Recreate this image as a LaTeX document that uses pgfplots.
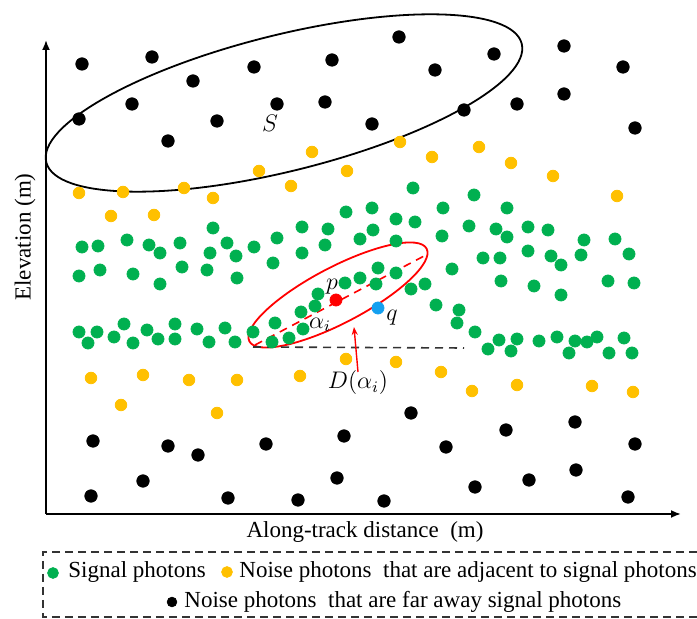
\documentclass[border=0pt]{standalone}
\usepackage{pgfplots}
\pgfplotsset{compat=1.18}
\usepackage{fontspec}
\setmainfont{Liberation Serif}
\usetikzlibrary{arrows.meta}
\definecolor{sgreen}{RGB}{0,176,80}
\definecolor{syellow}{RGB}{255,192,0}
\definecolor{sblue}{RGB}{20,160,240}
\begin{document}
\begin{tikzpicture}[every node/.append style={font=\fontsize{11.5}{13}\selectfont, inner sep=0pt}]
\begin{axis}[width=348.5pt,height=309.5pt,scale only axis,
  xmin=0,xmax=697,ymin=0,ymax=619,y dir=reverse,hide axis,clip=false]
% axes
\draw[line width=0.9pt,-{Latex[length=5pt,width=4pt]}] (axis cs:46,514) -- (axis cs:46,40);
\draw[line width=0.9pt,-{Latex[length=5pt,width=4pt]}] (axis cs:46,514) -- (axis cs:681,514);
% black noise photons
\addplot[only marks, mark=*, mark size=3.1pt, color=black] coordinates {
(82,64) (152,57) (254,67) (193,81) (332,60) (132,104) (277,104) (325,102) (79,119) (217,121) (168,141)
(399,37) (494,54) (435,70) (564,46) (623,67) (372,124) (464,110) (517,104) (564,94) (635,128)
(93,441) (168,446) (198,455) (266,444) (344,436) (143,481) (337,478) (91,496) (228,498) (298,500)
(411,413) (506,430) (575,422) (446,447) (635,444) (475,487) (529,480) (576,470) (384,501) (628,497)
};
% yellow adjacent noise
\addplot[only marks, mark=*, mark size=2.9pt, color=syellow] coordinates {
(312,152) (259,171) (347,171) (291,186) (79,193) (123,192) (184,188) (213,198) (400,142) (479,147)
(432,157) (511,163) (553,176) (617,196) (111,216) (154,215) (346,359) (396,362) (91,378) (143,375)
(189,380) (237,380) (300,376) (121,405) (217,413) (441,372) (472,391) (517,385) (592,386) (633,392)
};
% green signal photons
\addplot[only marks, mark=*, mark size=3pt, color=sgreen] coordinates {
(413,188) (474,195)
(213,228) (302,227) (328,229) (346,212) (82,247) (98,246) (127,240) (149,245) (160,253) (180,243)
(210,253) (227,243) (236,256) (254,247) (277,238) (302,253) (325,245) (79,276) (100,270) (133,274)
(160,284) (182,267) (207,270) (237,278) (273,263) (318,294) (315,306) (301,312) (345,283) (275,323)
(303,329) (289,338) (272,342) (253,332) (79,332) (97,332) (88,343) (114,337) (124,324) (133,343)
(147,330) (158,339) (175,324) (175,339) (197,329) (209,342) (225,328) (235,342)
(372,208) (396,219) (415,222) (443,208) (507,208) (373,230) (360,239) (396,241) (442,236) (469,226)
(496,229) (507,237) (528,227) (548,230) (584,240) (615,239) (483,258) (500,258) (528,251) (551,256)
(561,265) (581,255) (629,254) (452,269) (378,268) (360,278) (396,273) (376,284) (411,289) (425,284)
(501,281) (534,286) (561,295) (608,281) (634,283) (436,305) (459,310) (457,323) (475,332) (488,349)
(499,340) (517,339) (511,351) (539,341) (557,337) (575,341) (587,342) (597,337) (569,353) (624,338)
(609,353) (632,353)
};
% p and q
\addplot[only marks, mark=*, mark size=3pt, color=red] coordinates {(336,300)};
\addplot[only marks, mark=*, mark size=3pt, color=sblue] coordinates {(378,308)};
% ellipses
\draw[black, line width=0.9pt, rotate around={14:(axis cs:284,103)}] (axis cs:284,103) ellipse [x radius=122.5pt, y radius=34pt];
\draw[red, line width=0.9pt, rotate around={27.6:(axis cs:338,295)}] (axis cs:338,295) ellipse [x radius=50pt, y radius=14pt];
\draw[red, line width=0.8pt, dash pattern=on 4pt off 3pt] (axis cs:255,345) -- (axis cs:426,255);
\draw[black!80, line width=0.8pt, dash pattern=on 4pt off 3pt] (axis cs:253,347) -- (axis cs:464,348);
\draw[red, line width=0.7pt, -{Stealth[length=4pt,width=3pt]}] (axis cs:358,372) -- (axis cs:354,327);
% labels
\node at (axis cs:270,123) {$S$};
\node at (axis cs:332,287) {$p$};
\node at (axis cs:392,318) {$q$};
\node at (axis cs:320,325) {$\alpha_i$};
\node at (axis cs:358,383) {$D(\alpha_i)$};
\node at (axis cs:365,532) {Along-track distance\ \ (m)};
\node[rotate=90] at (axis cs:25,237) {Elevation (m)};
% legend
\draw[black!80, line width=0.7pt, dash pattern=on 4pt off 2.5pt] (axis cs:697,552) -- (axis cs:43,552) -- (axis cs:43,617) -- (axis cs:697,617);
\addplot[only marks, mark=*, mark size=2.7pt, color=sgreen] coordinates {(53,573)};
\addplot[only marks, mark=*, mark size=2.7pt, color=syellow] coordinates {(227,572)};
\addplot[only marks, mark=*, mark size=2.4pt, color=black] coordinates {(172,602)};
\node[anchor=west] at (axis cs:68,572) {Signal photons};
\node[anchor=west] at (axis cs:239,572) {Noise photons\ \ that are adjacent to signal photons};
\node[anchor=west] at (axis cs:184,602) {Noise photons\ \ that are far away signal photons};
\end{axis}
\pgfresetboundingbox
\path (current axis.south west) rectangle (current axis.north east);
\end{tikzpicture}
\end{document}
